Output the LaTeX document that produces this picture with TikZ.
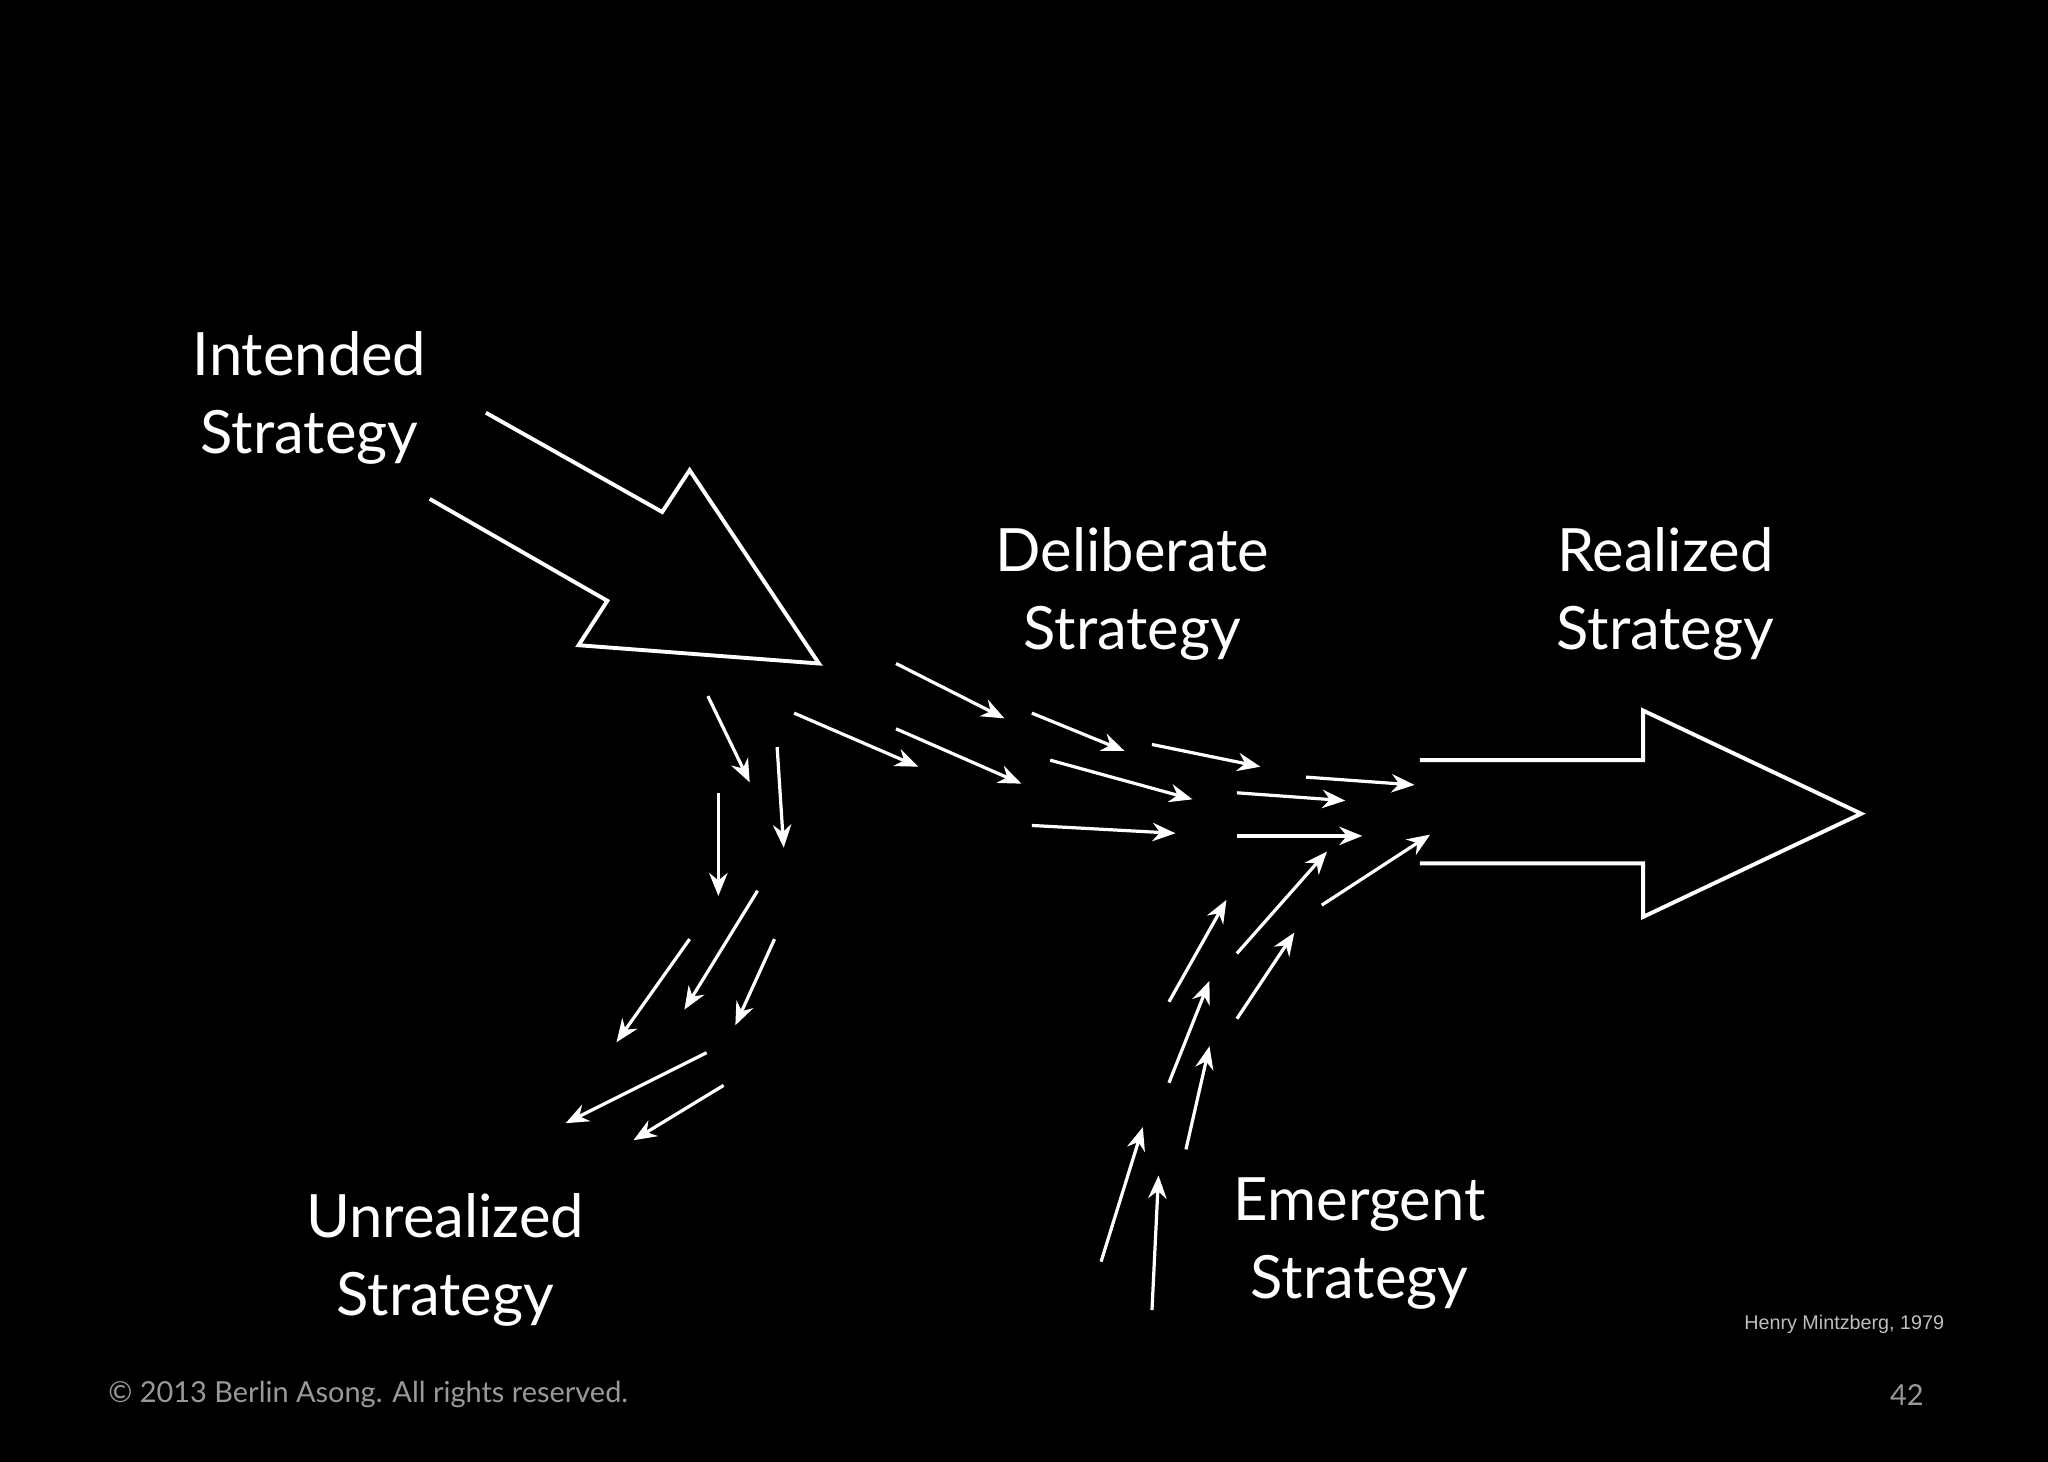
\documentclass[tikz,border=0pt]{standalone}
\usepackage{fontspec}
\setmainfont{Lato}
\newfontfamily\arialf{Liberation Sans}
\usetikzlibrary{arrows.meta}
\begin{document}
\begin{tikzpicture}[x=0.01cm,y=-0.01cm,
  big/.style={white,line width=0.85pt,line join=miter},
  sm/.style={white,line width=0.7pt,-{Stealth[length=5pt,width=4pt]}},
  lbl/.style={white,align=center,font=\fontsize{13}{17}\selectfont}]
\fill[black] (0,0) rectangle (1568,1119);
\useasboundingbox (0,0) rectangle (1568,1119);
\draw[big] (372,316) -- (507,392) -- (528,360) -- (627,508) -- (443,494) -- (465,460) -- (329,382);
\draw[big] (1087,582) -- (1258,582) -- (1258,544) -- (1425,623) -- (1258,702) -- (1258,661) -- (1087,661);
\foreach \a/\b/\c/\d in {686/508/769/550, 608/546/703/587, 686/558/782/600, 790/546/861/575,
 804/582/913/612, 790/632/900/638, 882/570/965/587, 947/607/1030/613, 947/640/1043/640,
 1000/595/1083/601,
 1012/693/1095/639, 947/730/1016/652, 947/780/991/714, 895/767/939/689, 895/829/926/751,
 908/880/926/801, 843/966/875/863, 882/1003/887/900,
 542/533/574/599, 595/572/600/649, 550/607/550/686, 580/682/524/773, 528/719/472/798,
 593/719/563/785, 541/806/433/860, 554/831/485/873}
 \draw[sm] (\a,\b) -- (\c,\d);
\node[lbl] (int) at (237,305) {Intended\\Strategy};
\node[lbl] (del) at (867,455) {Deliberate\\Strategy};
\node[lbl] (rea) at (1275,455) {Realized\\Strategy};
\node[lbl] (unr) at (341,965) {Unrealized\\Strategy};
\node[lbl] (eme) at (1041,952) {Emergent\\Strategy};
\node[text=gray!80,font=\fontsize{6.3}{7}\selectfont] (cp) at (282,1068) {© 2013 Berlin Asong. All rights reserved.};
\node[text=gray!80,font=\fontsize{6.3}{7}\selectfont] (pg) at (1460,1068) {42};
\node[text=gray!50,font=\arialf\fontsize{4.3}{5}\selectfont] (hm) at (1412,1014) {Henry Mintzberg, 1979};
\end{tikzpicture}
\end{document}
